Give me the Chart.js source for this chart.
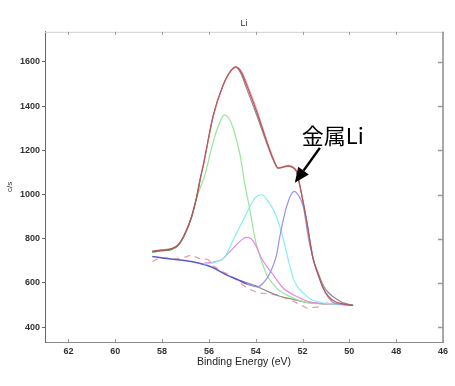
<!DOCTYPE html>
<html>
<head>
<meta charset="utf-8">
<script src="https://cdn.jsdelivr.net/npm/chart.js@4/dist/chart.umd.min.js"></script>
<style>
  html, body { margin: 0; padding: 0; background: #fff; }
  #wrap { width: 455px; height: 386px; }
</style>
</head>
<body>
<div id="wrap"><canvas id="xps" width="455" height="386"></canvas></div>
<script>
// tick labels
const xTicks = [62, 60, 58, 56, 54, 52, 50, 48, 46];
const yTicks = [400, 600, 800, 1000, 1200, 1400, 1600];

// fit envelope (red)
const envX = [58.42, 58.02, 57.59, 57.31, 57.02, 56.74, 56.52, 56.38, 56.24, 55.81, 55.39, 55.1, 54.84, 54.6, 54.39, 53.96, 53.53, 53.25, 53.04, 52.8, 52.61, 52.4, 52.25, 52.11, 51.97, 51.83, 51.55, 51.33, 51.12, 50.9, 50.6, 50.26, 49.84];
const envY = [742, 748, 754, 773, 825, 901, 991, 1067, 1134, 1360, 1496, 1555, 1577, 1550, 1496, 1375, 1240, 1160, 1120, 1125, 1130, 1122, 1104, 1040, 965, 886, 710, 637, 577, 540, 515, 505, 498];

// measured data (grey) - differs slightly from the envelope
const rawX = [58.42, 58.02, 57.59, 57.31, 57.02, 56.74, 56.52, 56.38, 56.24, 55.81, 55.39, 55.1, 54.84, 54.6, 54.39, 53.96, 53.53, 53.25, 53.04, 52.8, 52.61, 52.4, 52.25, 52.11, 51.97, 51.83, 51.55, 51.33, 51.12, 50.9, 50.55, 50.26, 49.84];
const rawY = [744, 750, 756, 771, 822, 898, 988, 1064, 1130, 1357, 1494, 1553, 1575, 1540, 1480, 1360, 1232, 1156, 1118, 1124, 1128, 1120, 1100, 1036, 962, 884, 712, 645, 590, 557, 528, 510, 500];

// pink trace along the envelope
const pinkX = [56.24, 55.81, 55.39, 55.1, 54.84, 54.6, 54.39, 53.96, 53.53, 53.25, 53.04, 52.8, 52.61, 52.4, 52.25];
const pinkY = [1128, 1355, 1494, 1553, 1576, 1556, 1506, 1386, 1246, 1164, 1122, 1126, 1132, 1124, 1108];

// dark olive start of the trace
const oliveX = [58.42, 58.02, 57.59, 57.31, 57.02, 56.74, 56.52, 56.38];
const oliveY = [740, 746, 752, 770, 822, 898, 988, 1062];

// components
const greenX = [58.42, 58.02, 57.59, 57.31, 57.02, 56.74, 56.52, 56.17, 55.81, 55.56, 55.34, 55.15, 54.96, 54.67, 54.46, 54.25, 54.03, 53.82, 53.53, 53.11, 52.54, 51.83, 51.2, 50.4, 49.84];
const greenY = [738, 745, 752, 770, 820, 895, 985, 1089, 1240, 1320, 1360, 1345, 1300, 1180, 1044, 931, 800, 722, 637, 577, 539, 512, 506, 504, 499];

const cyanX = [56.2, 55.74, 55.31, 54.89, 54.46, 54.32, 54.03, 53.75, 53.5, 53.18, 52.89, 52.61, 52.4, 52.2, 51.97, 51.7, 51.4, 50.7, 49.84];
const cyanY = [685, 693, 720, 810, 901, 931, 985, 999, 975, 916, 826, 705, 622, 580, 554, 530, 516, 505, 499];

const magX = [56.2, 55.95, 55.46, 55.03, 54.6, 54.42, 54.2, 54.03, 53.75, 53.53, 53.25, 52.83, 52.25, 51.6, 50.8, 49.84];
const magY = [690, 693, 705, 750, 795, 806, 800, 777, 712, 675, 637, 577, 539, 512, 505, 499];

const purX = [54.39, 53.89, 53.68, 53.47, 53.25, 53.11, 52.97, 52.68, 52.36, 52.2, 51.97, 51.76, 51.54, 51.33, 51.12, 50.9, 50.69, 50.3, 49.84];
const purY = [596, 584, 600, 629, 680, 727, 810, 946, 1014, 1000, 946, 810, 705, 637, 577, 535, 512, 503, 499];

// background
const bgX = [58.42, 57.9, 57.31, 56.45, 55.88, 55.31, 54.67, 54.39, 53.89];
const bgY = [720, 712, 705, 690, 672, 640, 610, 596, 582];
const bgGreyX = [54.67, 53.89, 53.5, 52.97, 52.4, 51.83, 51.2, 50.4, 49.84];
const bgGreyY = [612, 582, 562, 540, 526, 512, 507, 504, 499];

// residual-like dashed trace
const dashX = [58.42, 58.15, 57.88, 57.5, 57.1, 56.74, 56.45, 56.24, 56.1, 55.74, 55.4, 55.1, 54.8, 54.46, 54.15, 53.82, 53.25, 52.9, 52.54, 52.1, 51.76, 51.5, 51.26, 50.97, 50.6, 50.1, 49.84];
const dashY = [697, 710, 713, 708, 714, 725, 712, 705, 708, 672, 650, 635, 612, 584, 566, 554, 550, 537, 524, 502, 486, 490, 494, 509, 504, 500, 498];

const pts = (xs, ys) => xs.map((x, i) => ({ x: x, y: ys[i] }));

const line = (label, xs, ys, color, order, extra) => Object.assign({
  label: label,
  data: pts(xs, ys),
  borderColor: color,
  borderWidth: 1.2,
  pointRadius: 0,
  showLine: true,
  fill: false,
  cubicInterpolationMode: 'monotone',
  order: order
}, extra || {});

const framePlugin = {
  id: 'frame',
  afterDraw(chart) {
    const ctx = chart.ctx;
    const a = chart.chartArea;
    const xs = chart.scales.x;
    const ys = chart.scales.y;
    ctx.save();
    // top and right frame
    ctx.strokeStyle = '#cfcfcf';
    ctx.lineWidth = 1;
    ctx.beginPath();
    ctx.moveTo(a.left, a.top + 0.5);
    ctx.lineTo(a.right, a.top + 0.5);
    ctx.stroke();
    ctx.strokeStyle = '#a8a8a8';
    ctx.lineWidth = 2;
    ctx.beginPath();
    ctx.moveTo(a.right, a.top);
    ctx.lineTo(a.right, a.bottom);
    ctx.stroke();
    // inside ticks
    ctx.lineWidth = 1;
    ctx.strokeStyle = '#999';
    xTicks.forEach(v => {
      const px = Math.round(xs.getPixelForValue(v)) + 0.5;
      ctx.beginPath();
      ctx.moveTo(px, a.top);
      ctx.lineTo(px, a.top + 3);
      ctx.moveTo(px, a.bottom);
      ctx.lineTo(px, a.bottom - 3);
      ctx.stroke();
    });
    ctx.lineWidth = 1.5;
    yTicks.forEach(v => {
      const py = Math.round(ys.getPixelForValue(v)) + 0.5;
      ctx.beginPath();
      ctx.moveTo(a.right, py);
      ctx.lineTo(a.right - 5, py);
      ctx.stroke();
    });

    // annotation
    ctx.fillStyle = '#000';
    ctx.font = '22px "Noto Sans CJK JP", "Noto Sans", sans-serif';
    ctx.textBaseline = 'alphabetic';
    ctx.textAlign = 'left';
    ctx.fillText('金属Li', xs.getPixelForValue(52.03), ys.getPixelForValue(1228));

    const x0 = xs.getPixelForValue(51.26), y0 = ys.getPixelForValue(1211);
    const x1 = xs.getPixelForValue(52.33), y1 = ys.getPixelForValue(1053);
    const ang = Math.atan2(y1 - y0, x1 - x0);
    const head = 15, half = 6.5;
    const bx = x1 - head * Math.cos(ang), by = y1 - head * Math.sin(ang);
    ctx.strokeStyle = '#000';
    ctx.lineWidth = 2.5;
    ctx.beginPath();
    ctx.moveTo(x0, y0);
    ctx.lineTo(bx, by);
    ctx.stroke();
    ctx.beginPath();
    ctx.moveTo(x1, y1);
    ctx.lineTo(bx + half * Math.sin(ang), by - half * Math.cos(ang));
    ctx.lineTo(bx - half * Math.sin(ang), by + half * Math.cos(ang));
    ctx.closePath();
    ctx.fill();
    ctx.restore();
  }
};

const tickFont = { family: '"Liberation Sans", Arial, sans-serif', size: 9, weight: 'bold' };

new Chart(document.getElementById('xps'), {
  type: 'scatter',
  data: {
    datasets: [
      line('envelope', envX, envY, '#b9535a', 1),
      line('pink', pinkX, pinkY, '#f0a0a8', 2),
      line('data', rawX, rawY, '#8c8c8c', 3),
      line('olive', oliveX, oliveY, '#6f8a3a', 4),
      line('purple', purX, purY, '#9a94e4', 5),
      line('cyan', cyanX, cyanY, '#86eeee', 6),
      line('magenta', magX, magY, '#ea86e6', 7),
      line('green', greenX, greenY, '#96e696', 8),
      line('bg', bgX, bgY, '#5a58d2', 9, { borderWidth: 1.5 }),
      line('bg2', bgGreyX, bgGreyY, '#8e8e8e', 10),
      line('dash', dashX, dashY, '#f0999b', 11, { borderDash: [6, 5], borderWidth: 1.3 })
    ]
  },
  options: {
    responsive: false,
    animation: false,
    layout: { padding: { left: 0, right: 12, top: 0, bottom: 0 } },
    plugins: {
      legend: { display: false },
      tooltip: { enabled: false },
      title: {
        display: true,
        fullSize: false,
        text: 'Li',
        color: '#333',
        font: { family: '"Liberation Sans", Arial, sans-serif', size: 9, weight: 'normal' },
        padding: { top: 18, bottom: 3 }
      }
    },
    scales: {
      x: {
        type: 'linear',
        reverse: true,
        min: 46,
        max: 63,
        afterBuildTicks: s => { s.ticks = xTicks.map(v => ({ value: v })); },
        afterFit: s => { s.height = 44; },
        grid: { drawOnChartArea: false, drawTicks: false },
        border: { color: '#8a8a8a', width: 1 },
        ticks: { color: '#333', font: tickFont, padding: 4, maxRotation: 0, autoSkip: false, callback: v => String(v) },
        title: {
          display: true,
          text: 'Binding Energy (eV)',
          color: '#222',
          font: { family: '"Liberation Sans", Arial, sans-serif', size: 10.5 },
          padding: { top: 0, bottom: 18 }
        }
      },
      y: {
        min: 333,
        max: 1736,
        afterBuildTicks: s => { s.ticks = yTicks.map(v => ({ value: v })); },
        afterFit: s => { s.width = 45; },
        grid: { drawOnChartArea: false, drawTicks: true, tickLength: 3, color: '#666' },
        border: { color: '#666', width: 1 },
        ticks: { color: '#333', font: tickFont, padding: 2, autoSkip: false, callback: v => String(v) },
        title: {
          display: true,
          text: 'c/s',
          color: '#333',
          font: { family: '"Liberation Sans", Arial, sans-serif', size: 8 },
          padding: { top: 5, bottom: 0 }
        }
      }
    }
  },
  plugins: [framePlugin]
});
</script>
</body>
</html>
